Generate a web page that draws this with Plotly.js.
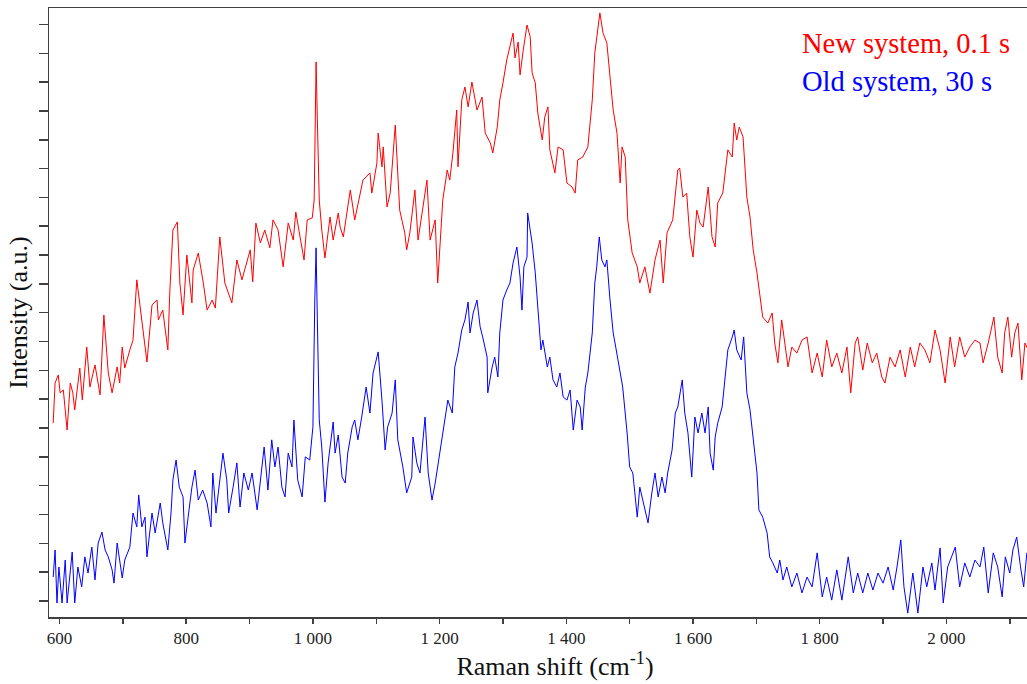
<!DOCTYPE html>
<html>
<head>
<meta charset="utf-8">
<script src="https://cdn.plot.ly/plotly-3.0.1.min.js"></script>
<style>
html, body { margin: 0; padding: 0; overflow: hidden; background: #ffffff; }
#chart { width: 1061px; height: 684px; }
</style>
</head>
<body>
<div id="chart"></div>
<script>
// Raman shift (cm-1) and intensity (a.u.)
var redX = [590,593,598,601,606,612,617,621,624,632,
636,643,648,656,664,670,677,683,691,695,
699,703,711,716,722,732,738,746,754,756,
763,771,774,779,786,790,795,801,809,811,
819,827,833,841,846,853,861,872,880,888,
896,901,905,910,917,924,932,937,945,953,
961,969,973,980,986,991,999,1002,1003,1005,
1007,1010,1014,1019,1027,1032,1040,1043,1048,1059,
1066,1074,1079,1090,1093,1101,1103,1109,1111,1117,
1122,1130,1134,1137,1145,1148,1153,1161,1166,1174,
1180,1185,1193,1197,1205,1212,1216,1221,1227,1229,
1235,1240,1245,1251,1259,1267,1272,1280,1284,1291,
1295,1300,1306,1316,1319,1324,1327,1332,1338,1343,
1346,1351,1355,1362,1366,1371,1374,1382,1387,1395,
1401,1409,1414,1418,1426,1434,1441,1445,1453,1458,
1464,1469,1474,1480,1485,1488,1493,1497,1504,1512,
1516,1524,1532,1540,1548,1553,1559,1568,1576,1579,
1584,1590,1595,1600,1606,1611,1616,1624,1630,1635,
1639,1647,1655,1662,1665,1669,1673,1679,1682,1685,
1690,1695,1701,1706,1710,1718,1725,1729,1734,1740,
1745,1750,1756,1764,1772,1780,1788,1796,1804,1811,
1819,1827,1835,1843,1849,1856,1860,1868,1875,1883,
1890,1898,1903,1911,1919,1927,1935,1943,1950,1958,
1966,1974,1982,1990,1998,2006,2013,2021,2029,2037,
2045,2053,2058,2066,2075,2081,2088,2092,2097,2103,
2108,2113,2119,2124,2129];
var redY = [61.7,75.6,78.4,72.2,73.2,59.3,75.6,72.2,66.3,80.8,
69.7,88.1,74.2,81.9,71.5,99.2,79.1,72.2,81.2,75.6,
88.1,80.8,87.1,90.5,111.4,93.0,82.9,102.7,104.4,97.5,
100.9,87.1,106.8,128.7,131.5,110.3,99.2,120.0,103.4,114.8,
120.7,110.3,100.9,104.4,101.6,126.3,110.3,103.4,118.3,111.4,
117.3,121.8,110.7,131.1,124.2,128.7,122.5,132.2,128.7,115.9,
131.1,125.2,134.9,125.2,118.3,132.2,132.9,139.1,163.4,187.0,
166.9,139.1,128.7,119.0,133.2,125.2,134.6,129.7,126.3,142.6,
132.2,141.5,146.0,148.5,141.5,151.9,162.3,150.6,157.5,136.7,
141.5,165.1,148.5,135.6,127.7,121.8,127.7,142.6,125.2,136.7,
146.0,125.2,132.2,110.3,139.1,149.5,146.0,155.4,170.3,150.6,
173.8,178.3,171.4,180.0,170.3,174.8,162.3,158.9,155.4,164.4,
173.8,179.7,187.7,197.0,188.4,193.9,182.5,191.1,199.8,195.7,
183.2,179.7,169.3,159.9,167.9,171.4,156.5,148.5,157.5,156.5,
145.0,143.6,141.5,153.0,154.0,157.5,173.8,190.1,204.0,197.0,
193.6,181.8,170.3,162.3,145.0,157.5,154.0,132.2,120.7,115.9,
110.3,115.9,106.8,118.3,125.2,110.3,127.7,132.2,149.5,150.2,
140.1,141.5,126.3,119.3,135.6,131.1,129.7,143.6,126.3,122.8,
138.1,141.5,156.5,154.0,165.8,159.9,164.4,161.0,149.5,140.1,
133.2,121.8,113.8,105.5,98.5,96.4,99.9,89.5,82.6,97.5,
89.5,81.2,88.1,86.0,90.5,91.6,79.1,86.0,77.7,90.5,
81.2,86.0,79.1,88.1,72.2,89.5,91.6,80.1,89.5,82.6,
86.0,77.7,75.6,84.6,81.2,87.1,77.7,88.1,81.2,89.5,
87.1,82.6,94.0,87.1,75.6,91.6,81.2,91.6,84.6,88.1,
90.5,89.5,82.6,89.5,98.5,84.6,79.1,93.0,98.5,84.6,
93.0,96.4,76.7,89.5,87.1];

var blueX = [590,593,596,599,604,609,612,617,620,624,
629,635,640,645,651,656,661,667,672,677,
683,686,691,699,703,711,716,722,725,730,
735,738,746,751,759,763,771,776,779,784,
789,795,798,803,809,814,819,826,833,839,
842,847,853,858,864,867,874,880,885,891,
898,904,912,917,923,929,935,940,945,951,
956,961,967,970,976,983,988,995,1000,1003,
1005,1007,1010,1014,1019,1024,1032,1035,1040,1046,
1051,1055,1062,1066,1071,1077,1084,1090,1095,1103,
1109,1114,1118,1125,1130,1134,1142,1148,1156,1158,
1164,1169,1177,1182,1188,1193,1197,1204,1208,1213,
1220,1224,1229,1235,1240,1245,1248,1253,1259,1264,
1268,1275,1276,1283,1287,1292,1295,1300,1306,1311,
1316,1322,1327,1330,1333,1338,1339,1346,1351,1355,
1360,1363,1370,1374,1379,1385,1390,1395,1401,1406,
1411,1417,1422,1425,1430,1434,1441,1445,1448,1452,
1456,1461,1464,1469,1474,1478,1483,1489,1496,1500,
1505,1512,1516,1521,1529,1535,1540,1545,1551,1556,
1560,1567,1572,1576,1583,1587,1592,1598,1603,1608,
1614,1619,1624,1627,1632,1635,1639,1646,1650,1655,
1662,1665,1669,1676,1680,1685,1690,1695,1701,1704,
1710,1717,1721,1726,1733,1737,1742,1748,1756,1764,
1772,1780,1788,1796,1804,1811,1819,1827,1835,1845,
1853,1860,1868,1876,1884,1892,1900,1908,1916,1922,
1928,1933,1939,1947,1955,1963,1969,1977,1982,1990,
1995,2002,2014,2021,2029,2037,2045,2053,2059,2066,
2074,2081,2088,2093,2100,2105,2111,2117,2122,2127];
var blueY = [8.3,17.7,-0.7,11.8,-0.7,14.2,-0.7,9.7,17.0,-0.7,
11.8,4.9,15.3,9.7,18.7,7.3,20.1,23.9,17.7,15.3,
10.8,6.2,20.1,8.0,14.2,18.7,30.5,25.7,36.8,25.7,
29.1,15.3,30.5,23.6,34.0,27.1,17.7,30.5,42.0,48.9,
39.5,36.1,20.1,29.1,39.5,45.4,35.0,38.5,34.0,25.7,
44.4,30.5,42.0,51.3,42.0,30.5,39.5,47.9,32.6,44.4,
38.5,44.4,31.6,42.0,53.4,38.5,55.9,46.5,53.4,39.5,
36.1,51.3,46.5,62.8,42.0,36.1,50.0,48.9,60.4,104.4,
122.5,97.5,62.8,53.4,34.3,47.9,62.1,51.3,57.6,43.0,
40.9,51.3,60.4,62.8,55.9,63.8,74.2,65.2,79.1,86.4,
69.7,52.4,60.4,65.2,76.7,55.9,46.5,37.5,43.0,56.9,
47.9,44.4,63.8,44.4,35.0,40.9,46.5,55.9,62.8,69.7,
65.2,81.2,86.0,94.0,97.5,103.7,93.0,99.9,104.4,95.1,
91.6,84.6,72.2,81.2,84.6,77.7,93.0,104.4,107.9,110.3,
117.3,122.8,112.4,100.9,115.9,119.3,134.6,124.2,113.8,100.9,
87.1,90.5,81.2,84.6,76.7,74.2,79.1,70.8,69.7,73.2,
59.3,69.7,67.3,59.3,74.2,79.1,93.0,110.3,115.9,126.3,
118.3,115.9,118.3,104.4,93.0,88.1,81.2,74.2,58.3,46.5,
44.4,29.1,39.5,35.0,27.1,37.5,44.4,36.1,43.0,37.5,
44.4,52.4,65.2,67.3,76.7,65.2,58.3,43.0,63.8,58.3,
65.2,58.3,67.3,51.3,45.4,56.9,61.7,67.3,75.6,87.1,
91.6,94.0,87.1,83.6,91.6,72.2,66.3,55.9,44.4,31.6,
29.1,23.6,15.3,13.2,9.7,14.2,7.3,11.8,4.9,9.7,
2.8,8.3,4.9,16.7,1.4,8.3,0.3,10.8,0.3,15.3,
2.8,9.7,2.8,9.7,3.8,9.7,6.2,11.8,3.8,11.8,
21.2,4.9,-4.2,9.7,-4.2,11.8,4.9,13.2,3.8,18.4,
-0.7,11.8,18.7,4.9,13.2,8.3,14.2,11.8,18.7,2.8,
16.7,11.8,1.4,15.3,9.7,17.7,22.2,11.8,4.9,16.7];

var xTickVals = [600,800,1000,1200,1400,1600,1800,2000];
var xTickText = ["600","800","1 000","1 200","1 400","1 600","1 800","2 000"];
var seriesNames = ["New system, 0.1 s", "Old system, 30 s"];

var serif = "Liberation Serif, Times New Roman, serif";
var axisColor = "#404040";

var traces = [
  {x: redX, y: redY, type: "scatter", mode: "lines", name: seriesNames[0],
   line: {color: "#ff0000", width: 1}, showlegend: false},
  {x: blueX, y: blueY, type: "scatter", mode: "lines", name: seriesNames[1],
   line: {color: "#0000ff", width: 1}, showlegend: false}
];

var layout = {
  width: 1061, height: 684,
  margin: {l: 49, r: 0, t: 8, b: 67},
  paper_bgcolor: "#ffffff", plot_bgcolor: "#ffffff",
  xaxis: {
    range: [583.4, 2180.9], autorange: false,
    tickmode: "array", tickvals: xTickVals, ticktext: xTickText,
    ticks: "outside", ticklen: 5, tickwidth: 1.5, tickcolor: axisColor,
    minor: {tick0: 0, dtick: 100, ticks: "outside", ticklen: 5, tickwidth: 1.5, tickcolor: axisColor, showgrid: false},
    showline: true, linecolor: axisColor, linewidth: 1.5, mirror: true,
    showgrid: false, zeroline: false,
    tickfont: {family: serif, size: 17, color: "#222222"},
    title: {text: "Raman shift (cm<sup>-1</sup>)", font: {family: serif, size: 26, color: "#111111"}, standoff: 8}
  },
  yaxis: {
    range: [-5.55, 205.7], autorange: false,
    tick0: 0, dtick: 10, ticks: "outside", ticklen: 9, tickwidth: 1.5, tickcolor: axisColor,
    showticklabels: false,
    showline: true, linecolor: axisColor, linewidth: 1.5, mirror: false,
    showgrid: false, zeroline: false,
    title: {text: "Intensity (a.u.)", font: {family: serif, size: 26, color: "#111111"}, standoff: 3}
  },
  annotations: [
    {xref: "paper", yref: "paper", x: 0.742, y: 0.9425, xanchor: "left", yanchor: "middle",
     text: seriesNames[0], showarrow: false, font: {family: serif, size: 28.5, color: "#ff0000"}},
    {xref: "paper", yref: "paper", x: 0.742, y: 0.8785, xanchor: "left", yanchor: "middle",
     text: seriesNames[1], showarrow: false, font: {family: serif, size: 28.5, color: "#0000ff"}}
  ]
};

Plotly.newPlot("chart", traces, layout, {displayModeBar: false, staticPlot: true});
</script>
</body>
</html>
